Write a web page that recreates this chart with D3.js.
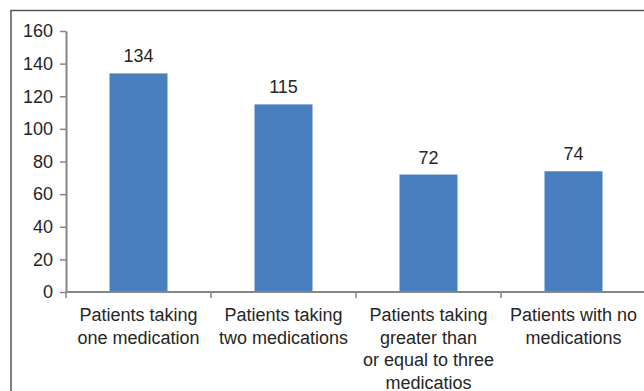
<!DOCTYPE html>
<html>
<head>
<meta charset="utf-8">
<script src="https://cdn.jsdelivr.net/npm/d3@7/dist/d3.min.js"></script>
<style>
  html, body { margin: 0; padding: 0; background: #fff; }
  svg { display: block; }
  text { font-family: "Liberation Sans", Arial, sans-serif; fill: #262626; }
</style>
</head>
<body>
<script>
// Number of patients by medication count
const categories = [
  ["Patients taking", "one medication"],
  ["Patients taking", "two medications"],
  ["Patients taking", "greater than", "or equal to three", "medicatios"],
  ["Patients with no", "medications"]
];
const values = [134, 115, 72, 74];
const yTicks = [0, 20, 40, 60, 80, 100, 120, 140, 160];

const W = 644, H = 391;
const plot = { left: 66, right: 646, top: 31, bottom: 292 };

const svg = d3.select("body").append("svg")
  .attr("width", W).attr("height", H);

// chart frame
svg.append("rect")
  .attr("x", 11).attr("y", 10.5)
  .attr("width", 700).attr("height", 500)
  .attr("fill", "none")
  .attr("stroke", "#4a4a4a")
  .attr("stroke-width", 1.4);

const keys = categories.map((c, i) => String(i));

const x = d3.scaleBand()
  .domain(keys)
  .range([plot.left, plot.right])
  .paddingInner(0.6)
  .paddingOuter(0.3);

const y = d3.scaleLinear()
  .domain([0, 160])
  .range([plot.bottom, plot.top]);

// y axis
const yAxis = svg.append("g")
  .attr("transform", `translate(${plot.left},0)`)
  .call(d3.axisLeft(y).tickValues(yTicks).tickSize(6).tickSizeOuter(0).tickPadding(7));
yAxis.select(".domain").attr("stroke", "#868686").attr("stroke-width", 2);
yAxis.selectAll(".tick line").attr("stroke", "#868686").attr("stroke-width", 1.5);
yAxis.selectAll(".tick text")
  .attr("font-size", 18)
  .style("font-family", '"Liberation Sans", Arial, sans-serif')
  .attr("fill", "#262626");

// bars
svg.append("g").selectAll("rect")
  .data(values)
  .join("rect")
  .attr("x", (d, i) => x(keys[i]))
  .attr("y", d => y(d))
  .attr("width", x.bandwidth())
  .attr("height", d => y(0) - y(d))
  .attr("fill", "#4a7fbf");

// value labels
svg.append("g").selectAll("text")
  .data(values)
  .join("text")
  .attr("x", (d, i) => x(keys[i]) + x.bandwidth() / 2)
  .attr("y", d => y(d) - 11)
  .attr("text-anchor", "middle")
  .attr("font-size", 18)
  .text(d => d);

// x axis with ticks on category boundaries
const gap = (x.step() - x.bandwidth()) / 2;
const bounds = keys.map(k => x(k) - gap).concat([plot.right]);
const xAxis = svg.append("g");
xAxis.append("line")
  .attr("x1", plot.left).attr("x2", plot.right)
  .attr("y1", y(0)).attr("y2", y(0))
  .attr("stroke", "#868686").attr("stroke-width", 2);
xAxis.selectAll("line.tick")
  .data(bounds)
  .join("line")
  .attr("class", "tick")
  .attr("x1", d => d).attr("x2", d => d)
  .attr("y1", y(0)).attr("y2", y(0) + 6)
  .attr("stroke", "#868686").attr("stroke-width", 1.5);

// category labels
const lab = svg.append("g").selectAll("text")
  .data(categories)
  .join("text")
  .attr("x", (d, i) => x(keys[i]) + x.bandwidth() / 2)
  .attr("y", 321)
  .attr("text-anchor", "middle")
  .attr("font-size", 18);
lab.selectAll("tspan")
  .data(d => d)
  .join("tspan")
  .attr("x", function () { return this.parentNode.getAttribute("x"); })
  .attr("dy", (d, j) => j === 0 ? 0 : 22.5)
  .text(d => d);
</script>
</body>
</html>
